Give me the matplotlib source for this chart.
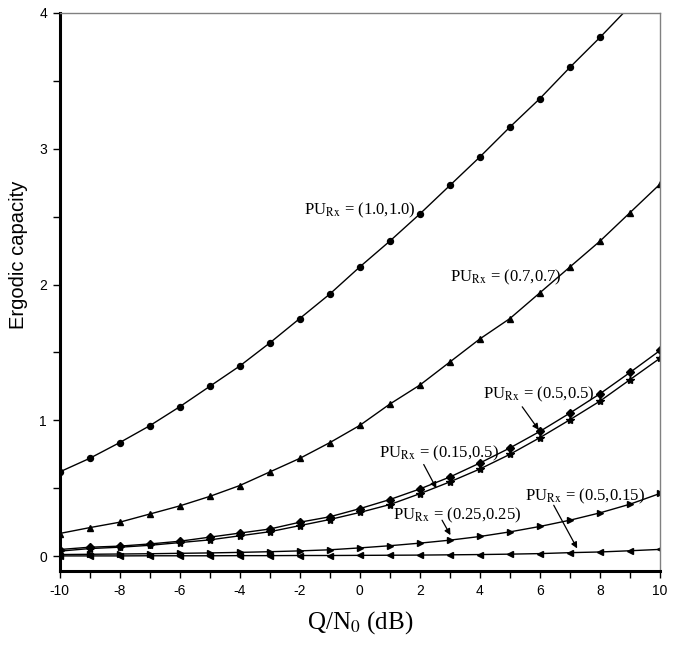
import numpy as np
import matplotlib.pyplot as plt

plt.rcParams['mathtext.fontset'] = 'stix'
plt.rcParams['axes.unicode_minus'] = False

x = np.arange(-10, 11)

cap_10_10 = [0.62, 0.72, 0.836, 0.96, 1.10, 1.25, 1.40, 1.57, 1.75, 1.93, 2.13,
             2.32, 2.52, 2.73, 2.94, 3.16, 3.37, 3.60, 3.82, 4.05, 4.28]
cap_07_07 = [0.167, 0.21, 0.25, 0.31, 0.37, 0.44, 0.52, 0.62, 0.72, 0.836, 0.963,
             1.12, 1.26, 1.43, 1.60, 1.75, 1.94, 2.13, 2.32, 2.53, 2.74]
cap_05_05 = [0.049, 0.066, 0.074, 0.09, 0.11, 0.14, 0.17, 0.20, 0.25, 0.29, 0.35,
             0.417, 0.495, 0.583, 0.686, 0.797, 0.919, 1.054, 1.196, 1.353, 1.515]
cap_015_05 = [0.037, 0.056, 0.066, 0.08, 0.10, 0.12, 0.15, 0.18, 0.225, 0.27, 0.322,
              0.38, 0.46, 0.547, 0.642, 0.75, 0.873, 1.005, 1.142, 1.30, 1.458]
cap_05_015 = [0.012, 0.014, 0.016, 0.018, 0.021, 0.024, 0.028, 0.033, 0.039, 0.047, 0.061,
              0.077, 0.096, 0.118, 0.145, 0.179, 0.219, 0.265, 0.319, 0.383, 0.462]
cap_025_025 = [0.002, 0.002, 0.002, 0.003, 0.003, 0.003, 0.004, 0.004, 0.005, 0.005, 0.006,
               0.007, 0.008, 0.01, 0.012, 0.015, 0.019, 0.026, 0.031, 0.04, 0.05]

fig = plt.figure(figsize=(6.78, 6.49), dpi=100)
ax = fig.add_axes([0.0878, 0.12, 0.8857, 0.86])

kw = dict(color='black', lw=1.0, mfc='black', mec='black')
ax.plot(x, cap_10_10, marker='o', ms=4.3, **kw)
ax.plot(x, cap_07_07, marker='^', ms=5, **kw)
ax.plot(x, cap_05_05, marker='D', ms=4, **kw)
ax.plot(x, cap_015_05, marker='*', ms=6, **kw)
ax.plot(x, cap_05_015, marker='>', ms=5, **kw)
ax.plot(x, cap_025_025, marker='<', ms=5, **kw)

ax.set_xlim(-10, 10)
ax.set_ylim(-0.11, 4)
ax.set_xticks(np.arange(-10, 11, 2))
ax.set_xticks(np.arange(-9, 10, 2), minor=True)
ax.set_yticks([0, 1, 2, 3, 4])
ax.set_yticks([0.5, 1.5, 2.5, 3.5], minor=True)
ax.tick_params(which='both', direction='out', length=5, width=1, color='black')
ax.tick_params(labelsize=10, pad=4)
for lab in ax.get_xticklabels() + ax.get_yticklabels():
    lab.set_fontfamily('Liberation Sans')

ax.spines['left'].set_linewidth(2.2)
ax.spines['bottom'].set_linewidth(2.2)
for s in ('top', 'right'):
    ax.spines[s].set_linewidth(1.0)
    ax.spines[s].set_color('#808080')

ax.set_ylabel('Ergodic capacity', fontsize=14.5, family='Liberation Sans')
ax.yaxis.set_label_coords(-0.053, 0.566)
ax.set_xlabel(r'Q/N$_0$ (dB)', fontsize=18, family='Liberation Serif', labelpad=8)

tk = dict(fontsize=12, family='Liberation Serif', va='center', ha='left')
ax.text(-1.85, 2.55, r'PU$_{\rm Rx}$ = (1.0,1.0)', **tk)
ax.text(3.0, 2.05, r'PU$_{\rm Rx}$ = (0.7,0.7)', **tk)
ax.text(4.1, 1.19, r'PU$_{\rm Rx}$ = (0.5,0.5)', **tk)
ax.text(0.63, 0.76, r'PU$_{\rm Rx}$ = (0.15,0.5)', **tk)
ax.text(1.12, 0.30, r'PU$_{\rm Rx}$ = (0.25,0.25)', **tk)
ax.text(5.5, 0.44, r'PU$_{\rm Rx}$ = (0.5,0.15)', **tk)

ap = dict(arrowstyle='-|>', color='black', lw=0.9, mutation_scale=9, shrinkA=0, shrinkB=0)
ax.annotate('', xy=(5.96, 0.93), xytext=(5.41, 1.10), arrowprops=ap)
ax.annotate('', xy=(2.55, 0.50), xytext=(2.13, 0.675), arrowprops=ap)
ax.annotate('', xy=(3.02, 0.155), xytext=(2.74, 0.265), arrowprops=ap)
ax.annotate('', xy=(7.24, 0.057), xytext=(6.46, 0.375), arrowprops=ap)

fig.savefig('out.png', dpi=100)
